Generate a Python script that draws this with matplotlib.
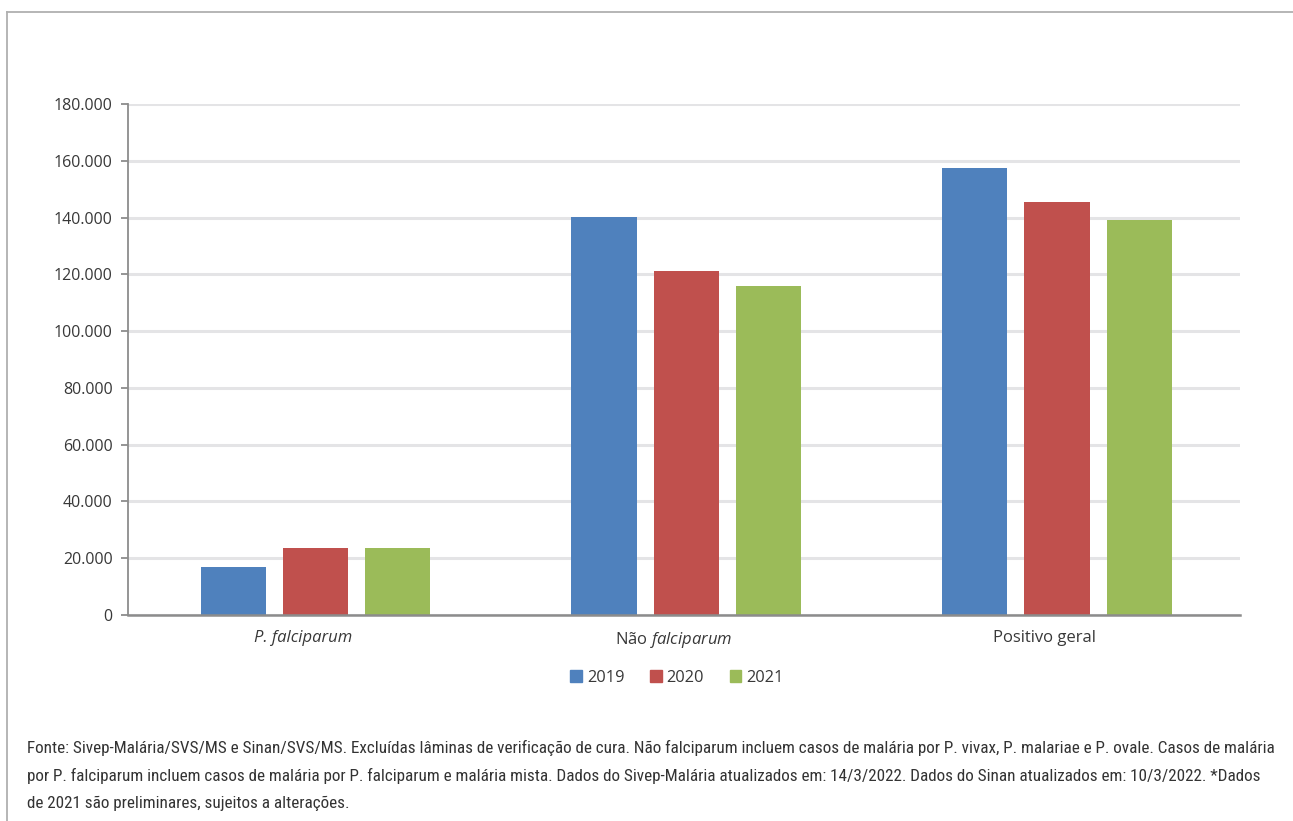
import matplotlib
matplotlib.use("Agg")
import matplotlib.pyplot as plt
import matplotlib.transforms as mtransforms
from matplotlib.lines import Line2D
import numpy as np

categories = ["P. falciparum", "Não falciparum", "Positivo geral"]
years = ["2019", "2020", "2021"]
v2019 = [17000, 140200, 157400]
v2020 = [23700, 121200, 145500]
v2021 = [23700, 116000, 139200]
yticks = [0, 20000, 40000, 60000, 80000, 100000, 120000, 140000, 160000, 180000]
colors = ["#4f81bd", "#c0504d", "#9bbb59"]

footnote = [
    "Fonte: Sivep-Malária/SVS/MS e Sinan/SVS/MS. Excluídas lâminas de verificação de cura. Não falciparum incluem casos de malária por P. vivax, P. malariae e P. ovale. Casos de malária",
    "por P. falciparum incluem casos de malária por P. falciparum e malária mista. Dados do Sivep-Malária atualizados em: 14/3/2022. Dados do Sinan atualizados em: 10/3/2022. *Dados",
    "de 2021 são preliminares, sujeitos a alterações.",
]

plt.rcParams['font.family'] = ['Open Sans', 'DejaVu Sans']
plt.rcParams['mathtext.fontset'] = 'custom'
plt.rcParams['mathtext.rm'] = 'Open Sans'
plt.rcParams['mathtext.it'] = 'Open Sans:italic'

fig = plt.figure(figsize=(12.93, 8.21), dpi=100)
ax = fig.add_axes([128/1293, 1-615/821, (1240-128)/1293, (615-104)/821])

x = np.arange(len(categories)) + 0.5
w = 0.176
off = 0.222
for i, (vals, yr) in enumerate(zip([v2019, v2020, v2021], years)):
    ax.bar(x + (i-1)*off + 0.006, vals, width=w, color=colors[i], label=yr, zorder=3)

ax.set_xlim(0, 3)
ax.set_ylim(0, 180000)
ax.set_yticks(yticks)
ax.set_yticklabels([f"{v:,}".replace(",", ".") for v in yticks])
ax.yaxis.grid(True, color="#e4e4e6", linewidth=2.2, zorder=0)
ax.set_axisbelow(True)
for s in ["top", "right"]:
    ax.spines[s].set_visible(False)
ax.spines["left"].set_color("#8c8c8c")
ax.spines["left"].set_linewidth(1.3)
ax.spines["bottom"].set_color("#8c8c8c")
ax.spines["bottom"].set_linewidth(1.8)
ax.spines["bottom"].set_zorder(4)
ax.tick_params(axis="y", length=5, width=1.3, color="#8c8c8c", pad=6,
               labelsize=11.5, labelcolor="#383838")
ax.tick_params(axis="x", length=0, pad=11, labelsize=12, labelcolor="#383838")
ax.set_xticks(x)
ax.set_xticklabels([categories[0], r"Não $\it{falciparum}$", categories[2]])
ax.get_xticklabels()[0].set_fontstyle("italic")
shift = mtransforms.ScaledTranslation(-10/100, 0, fig.dpi_scale_trans)
for lab in ax.get_xticklabels():
    lab.set_transform(lab.get_transform() + shift)

handles = [plt.Rectangle((0, 0), 1, 1, color=c) for c in colors]
fig.legend(handles, years, loc="center", bbox_to_anchor=(677/1293, 1-678/821),
           ncol=3, frameon=False, handlelength=0.72, handleheight=0.72,
           handletextpad=0.3, columnspacing=1.55, fontsize=11.8,
           labelcolor="#383838")

ys = [748, 776, 803]
fam = ['Roboto Condensed', 'Liberation Sans Narrow', 'Roboto', 'DejaVu Sans']
texts = []
for line, yy in zip(footnote, ys):
    texts.append(fig.text(27/1293, 1-yy/821, line, family=fam,
                          fontsize=11, color="#333333", va="center", ha="left"))
fig.canvas.draw()
wpx = texts[0].get_window_extent().width
fs = 11 * 1243 / wpx
for t in texts:
    t.set_fontsize(fs)

# frame lines
fig.add_artist(Line2D([7/1293, 1], [1-12/821, 1-12/821], transform=fig.transFigure,
                      color="#b0b0b0", linewidth=1.3))
fig.add_artist(Line2D([7/1293, 7/1293], [0, 1-12/821], transform=fig.transFigure,
                      color="#b0b0b0", linewidth=1.3))

fig.savefig("out.png", dpi=100)
